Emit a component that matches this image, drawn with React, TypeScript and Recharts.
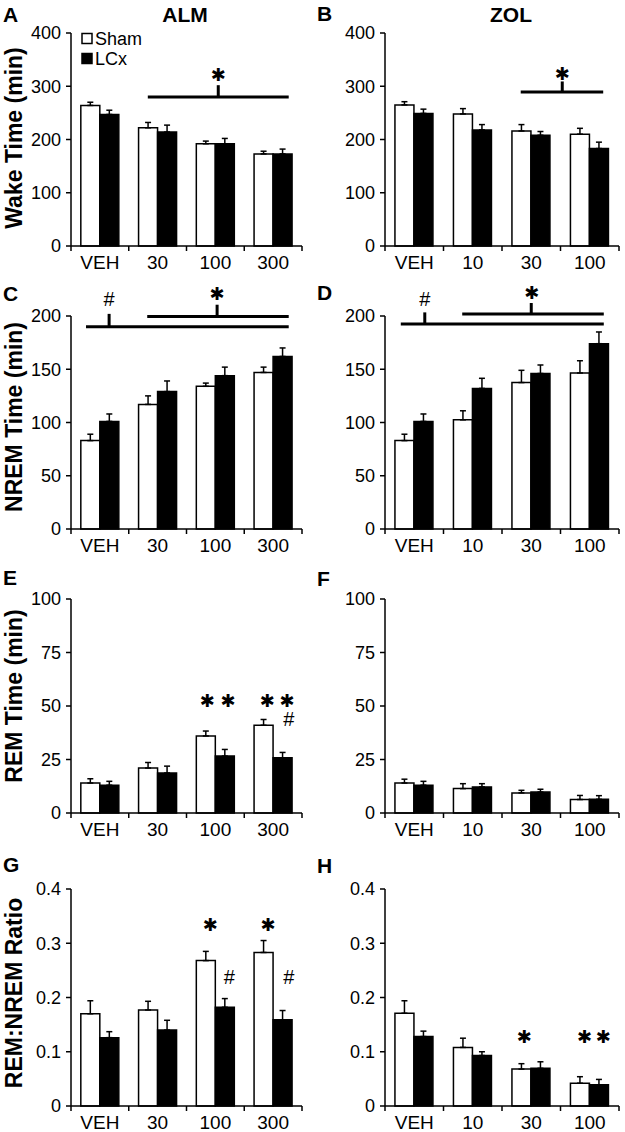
import React from "react";
import { BarChart, Bar, XAxis, YAxis, ErrorBar, ReferenceLine, ReferenceDot } from "recharts";

const FONT = '"Liberation Sans", Arial, Helvetica, sans-serif';
const STAR = "\u2731";

// dose groups
const almDoses = ["VEH", "30", "100", "300"];
const zolDoses = ["VEH", "10", "30", "100"];

// wake time (min)
const wakeAlmSham = [264, 222, 192, 173];
const wakeAlmShamSem = [6, 10, 5, 5];
const wakeAlmLcx = [247, 214, 192, 173];
const wakeAlmLcxSem = [8, 13, 10, 9];
const wakeZolSham = [265, 248, 216, 210];
const wakeZolShamSem = [6, 10, 12, 11];
const wakeZolLcx = [249, 218, 208, 183];
const wakeZolLcxSem = [8, 10, 7, 12];

// NREM time (min)
const nremAlmSham = [83, 117, 134, 147];
const nremAlmShamSem = [6, 8, 3, 5];
const nremAlmLcx = [101, 129, 144, 162];
const nremAlmLcxSem = [7, 10, 8, 8];
const nremZolSham = [83, 102.5, 137.5, 146.5];
const nremZolShamSem = [6, 8.5, 11.5, 11.5];
const nremZolLcx = [101, 132, 146, 174];
const nremZolLcxSem = [7, 9.5, 8, 11];

// REM time (min)
const remAlmSham = [14, 21, 36, 41];
const remAlmShamSem = [2, 2.6, 2.3, 2.7];
const remAlmLcx = [13, 18.7, 26.6, 25.8];
const remAlmLcxSem = [1.8, 3.2, 3.1, 2.5];
const remZolSham = [14, 11.4, 9.4, 6.3];
const remZolShamSem = [1.8, 2.3, 1.2, 1.9];
const remZolLcx = [13, 12.2, 9.8, 6.4];
const remZolLcxSem = [1.8, 1.5, 1.3, 1.7];

// REM:NREM ratio
const ratioAlmSham = [0.17, 0.177, 0.268, 0.283];
const ratioAlmShamSem = [0.024, 0.016, 0.017, 0.022];
const ratioAlmLcx = [0.126, 0.14, 0.182, 0.159];
const ratioAlmLcxSem = [0.011, 0.018, 0.016, 0.017];
const ratioZolSham = [0.171, 0.108, 0.068, 0.042];
const ratioZolShamSem = [0.023, 0.017, 0.01, 0.012];
const ratioZolLcx = [0.128, 0.093, 0.0695, 0.039];
const ratioZolLcxSem = [0.01, 0.007, 0.012, 0.01];

const wakeTicks = [0, 100, 200, 300, 400];
const nremTicks = [0, 50, 100, 150, 200];
const remTicks = [0, 25, 50, 75, 100];
const ratioTicks = [0, 0.1, 0.2, 0.3, 0.4];

// significance brackets / marks, x in dose-group units (0..4)
type Bracket = { from: number; to: number; y: number; at: number; top: number };
type Mark = { x: number; y: number; text: string };

const wakeAlmBrackets: Bracket[] = [{ from: 1.33, to: 3.77, y: 280, at: 2.55, top: 302 }];
const wakeAlmMarks: Mark[] = [{ x: 2.55, y: 322, text: STAR }];
const wakeZolBrackets: Bracket[] = [{ from: 2.32, to: 3.73, y: 289, at: 3.03, top: 309 }];
const wakeZolMarks: Mark[] = [{ x: 3.03, y: 324, text: STAR }];

const nremAlmBrackets: Bracket[] = [
  { from: 0.26, to: 3.77, y: 190, at: 0.66, top: 202 },
  { from: 1.32, to: 3.77, y: 199.6, at: 2.53, top: 210.6 },
];
const nremAlmMarks: Mark[] = [
  { x: 0.66, y: 216, text: "#" },
  { x: 2.53, y: 221, text: STAR },
];
const nremZolBrackets: Bracket[] = [
  { from: 0.27, to: 3.74, y: 192.5, at: 0.68, top: 203.4 },
  { from: 1.32, to: 3.74, y: 201.9, at: 2.5, top: 212.2 },
];
const nremZolMarks: Mark[] = [
  { x: 0.68, y: 216, text: "#" },
  { x: 2.51, y: 222, text: STAR },
];

const remAlmMarks: Mark[] = [
  { x: 2.36, y: 52.4, text: STAR },
  { x: 2.72, y: 52.4, text: STAR },
  { x: 3.4, y: 52.4, text: STAR },
  { x: 3.74, y: 52.4, text: STAR },
  { x: 3.77, y: 44, text: "#" },
];
const ratioAlmMarks: Mark[] = [
  { x: 2.41, y: 0.335, text: STAR },
  { x: 3.41, y: 0.335, text: STAR },
  { x: 2.74, y: 0.237, text: "#" },
  { x: 3.77, y: 0.237, text: "#" },
];
const ratioZolMarks: Mark[] = [
  { x: 2.38, y: 0.129, text: STAR },
  { x: 3.41, y: 0.129, text: STAR },
  { x: 3.73, y: 0.129, text: STAR },
];

const Y_W = 60;

interface PanelProps {
  col: number;
  plotTop: number;
  plotBottom: number;
  doses: string[];
  sham: number[];
  shamSem: number[];
  lcx: number[];
  lcxSem: number[];
  ticks: number[];
  brackets?: Bracket[];
  marks?: Mark[];
}

function Panel({ col, plotTop, plotBottom, doses, sham, shamSem, lcx, lcxSem, ticks, brackets = [], marks = [] }: PanelProps) {
  const rows = doses.map((dose, i) => ({
    dose,
    sham: sham[i],
    shamErr: [0, shamSem[i]],
    lcx: lcx[i],
    lcxErr: [0, lcxSem[i]],
  }));
  const chartLeft = col === 0 ? 0 : 312;
  const width = col === 0 ? 312 : 313;
  const plotLeft = col === 0 ? 71 : 385;
  const plotW = col === 0 ? 231 : 234;
  const chartTop = Math.max(0, plotTop - 45);
  const height = plotBottom - chartTop + 30;
  const band = plotW / doses.length;
  const half = band / 2;
  const margin = {
    top: plotTop - chartTop,
    bottom: 0,
    left: plotLeft - chartLeft - Y_W,
    right: width - (plotLeft - chartLeft) - plotW,
  };

  // a position in group units -> dose category + pixel shift from its band centre
  const place = (u: number) => {
    const g = Math.min(doses.length - 1, Math.floor(u));
    return { cat: doses[g], dx: (u - g - 0.5) * band };
  };

  const DoseTick = (props: any) => {
    const { x, y, payload, index } = props;
    const axisY = y - 10;
    return (
      <g>
        <line x1={x - half} x2={x - half} y1={axisY} y2={axisY + 5} stroke="#000" strokeWidth={1.5} />
        {index === doses.length - 1 && (
          <line x1={x + half} x2={x + half} y1={axisY} y2={axisY + 5} stroke="#000" strokeWidth={1.5} />
        )}
        <text x={x} y={y} dy="0.71em" textAnchor="middle" fontSize={19} fontFamily={FONT} fill="#000">
          {payload.value}
        </text>
      </g>
    );
  };

  const segment = (ua: number, ya: number, ub: number, yb: number, key: string) => {
    const a = place(ua);
    const b = place(ub);
    return (
      <ReferenceLine
        key={key}
        segment={[{ x: a.cat, y: ya }, { x: b.cat, y: yb }]}
        ifOverflow="visible"
        shape={(p: any) => (
          <line x1={p.x1 + a.dx} y1={p.y1} x2={p.x2 + b.dx} y2={p.y2} stroke="#000" strokeWidth={3} />
        )}
      />
    );
  };

  return (
    <div style={{ position: "absolute", left: chartLeft, top: chartTop }}>
      <BarChart width={width} height={height} data={rows} margin={margin} barGap={0} barCategoryGap="17%">
        <XAxis
          dataKey="dose"
          height={30}
          interval={0}
          tickSize={4}
          tickMargin={6}
          tickLine={false}
          axisLine={{ stroke: "#000", strokeWidth: 1.5 }}
          tick={<DoseTick />}
        />
        <YAxis
          width={Y_W}
          domain={[ticks[0], ticks[ticks.length - 1]]}
          ticks={ticks}
          interval={0}
          tickSize={5}
          tickMargin={5}
          axisLine={{ stroke: "#000", strokeWidth: 1.5 }}
          tickLine={{ stroke: "#000", strokeWidth: 1.5 }}
          tick={{ fill: "#000", fontSize: 18, fontFamily: FONT }}
        />
        <Bar dataKey="sham" name="Sham" fill="#fff" stroke="#000" strokeWidth={1.5} isAnimationActive={false}>
          <ErrorBar dataKey="shamErr" direction="y" width={3} stroke="#000" strokeWidth={1.5} />
        </Bar>
        <Bar dataKey="lcx" name="LCx" fill="#000" stroke="#000" strokeWidth={1.5} isAnimationActive={false}>
          <ErrorBar dataKey="lcxErr" direction="y" width={3} stroke="#000" strokeWidth={1.5} />
        </Bar>
        {brackets.map((b, i) => segment(b.from, b.y, b.to, b.y, `h${i}`))}
        {brackets.map((b, i) => segment(b.at, b.y, b.at, b.top, `v${i}`))}
        {marks.map((m, i) => {
          const pos = place(m.x);
          const star = m.text !== "#";
          return (
            <ReferenceDot
              key={`m${i}`}
              x={pos.cat}
              y={m.y}
              r={0}
              ifOverflow="visible"
              shape={(p: any) => (
                <text
                  x={p.cx + pos.dx}
                  y={p.cy + (star ? 6.5 : 7)}
                  textAnchor="middle"
                  fontSize={star ? 18 : 20}
                  fontFamily={star ? "DejaVu Sans" : FONT}
                  fill="#000"
                >
                  {m.text}
                </text>
              )}
            />
          );
        })}
      </BarChart>
    </div>
  );
}

const letterStyle = { fontFamily: FONT, fontSize: 21, fontWeight: 700 };
const yLabelStyle = { fontFamily: FONT, fontSize: 23, fontWeight: 700 };

export default function App() {
  return (
    <div style={{ position: "absolute", left: 0, top: 0, width: 625, height: 1132, background: "#fff", overflow: "hidden" }}>
      <Panel col={0} plotTop={33} plotBottom={246} doses={almDoses} sham={wakeAlmSham} shamSem={wakeAlmShamSem} lcx={wakeAlmLcx} lcxSem={wakeAlmLcxSem} ticks={wakeTicks} brackets={wakeAlmBrackets} marks={wakeAlmMarks} />
      <Panel col={1} plotTop={33} plotBottom={246} doses={zolDoses} sham={wakeZolSham} shamSem={wakeZolShamSem} lcx={wakeZolLcx} lcxSem={wakeZolLcxSem} ticks={wakeTicks} brackets={wakeZolBrackets} marks={wakeZolMarks} />
      <Panel col={0} plotTop={316} plotBottom={529} doses={almDoses} sham={nremAlmSham} shamSem={nremAlmShamSem} lcx={nremAlmLcx} lcxSem={nremAlmLcxSem} ticks={nremTicks} brackets={nremAlmBrackets} marks={nremAlmMarks} />
      <Panel col={1} plotTop={316} plotBottom={529} doses={zolDoses} sham={nremZolSham} shamSem={nremZolShamSem} lcx={nremZolLcx} lcxSem={nremZolLcxSem} ticks={nremTicks} brackets={nremZolBrackets} marks={nremZolMarks} />
      <Panel col={0} plotTop={599} plotBottom={813} doses={almDoses} sham={remAlmSham} shamSem={remAlmShamSem} lcx={remAlmLcx} lcxSem={remAlmLcxSem} ticks={remTicks} marks={remAlmMarks} />
      <Panel col={1} plotTop={599} plotBottom={813} doses={zolDoses} sham={remZolSham} shamSem={remZolShamSem} lcx={remZolLcx} lcxSem={remZolLcxSem} ticks={remTicks} />
      <Panel col={0} plotTop={889} plotBottom={1106} doses={almDoses} sham={ratioAlmSham} shamSem={ratioAlmShamSem} lcx={ratioAlmLcx} lcxSem={ratioAlmLcxSem} ticks={ratioTicks} marks={ratioAlmMarks} />
      <Panel col={1} plotTop={889} plotBottom={1106} doses={zolDoses} sham={ratioZolSham} shamSem={ratioZolShamSem} lcx={ratioZolLcx} lcxSem={ratioZolLcxSem} ticks={ratioTicks} marks={ratioZolMarks} />

      <svg width={625} height={1132} style={{ position: "absolute", left: 0, top: 0, pointerEvents: "none" }}>
        <text x={3} y={22} {...letterStyle}>A</text>
        <text x={317} y={21} {...letterStyle}>B</text>
        <text x={3} y={301} {...letterStyle}>C</text>
        <text x={317} y={300} {...letterStyle}>D</text>
        <text x={3} y={585} {...letterStyle}>E</text>
        <text x={317} y={586} {...letterStyle}>F</text>
        <text x={3} y={872} {...letterStyle}>G</text>
        <text x={317} y={873} {...letterStyle}>H</text>

        <text x={185} y={22} textAnchor="middle" {...letterStyle}>ALM</text>
        <text x={511} y={22} textAnchor="middle" {...letterStyle}>ZOL</text>

        <text x={22} y={138} textAnchor="middle" transform="rotate(-90 22 138)" {...yLabelStyle}>Wake Time (min)</text>
        <text x={22} y={417} textAnchor="middle" transform="rotate(-90 22 417)" {...yLabelStyle}>NREM Time (min)</text>
        <text x={22} y={696} textAnchor="middle" transform="rotate(-90 22 696)" {...yLabelStyle}>REM Time (min)</text>
        <text x={22} y={993} textAnchor="middle" transform="rotate(-90 22 993)" {...yLabelStyle}>REM:NREM Ratio</text>

        <rect x={82} y={33.5} width={10} height={10} fill="#fff" stroke="#000" strokeWidth={1.5} />
        <text x={95} y={45} fontFamily={FONT} fontSize={18} fill="#000">Sham</text>
        <rect x={82} y={53.5} width={10} height={10} fill="#000" stroke="#000" strokeWidth={1.5} />
        <text x={95} y={65} fontFamily={FONT} fontSize={18} fill="#000">LCx</text>
      </svg>
    </div>
  );
}
